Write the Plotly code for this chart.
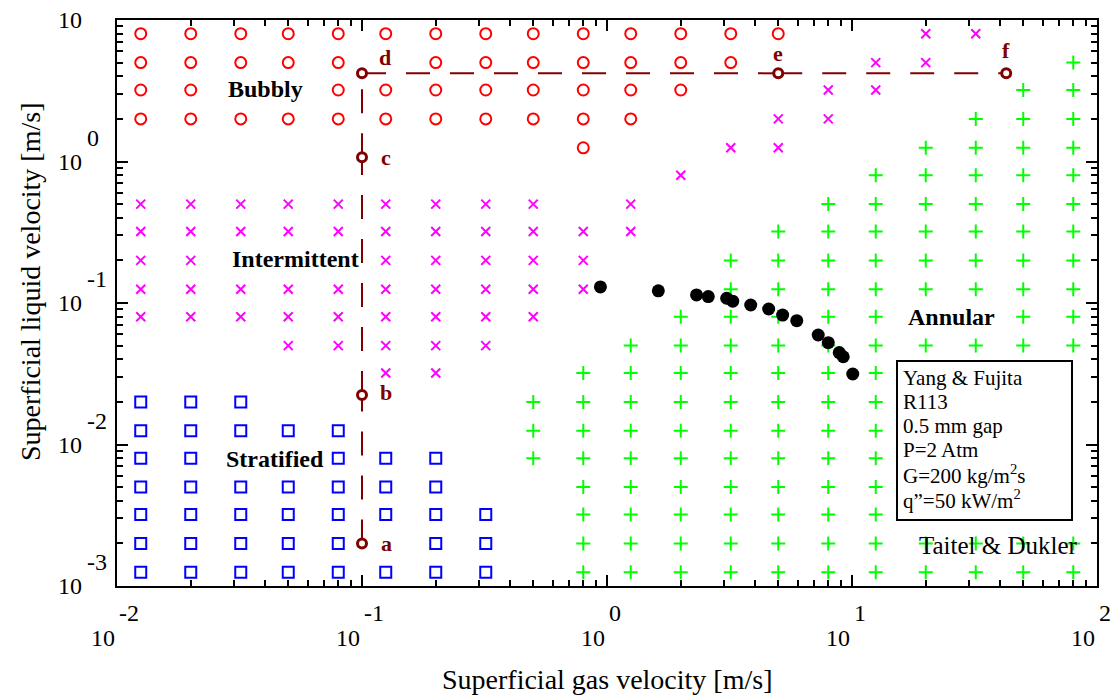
import numpy as np
import plotly.graph_objects as go

# ---------------- data ----------------
bubbly_rows = [
    (8.0, [0.0125, 0.02, 0.032, 0.05, 0.08, 0.125, 0.2, 0.32, 0.5, 0.8, 1.25, 2, 3.2, 5]),
    (5.0, [0.0125, 0.02, 0.032, 0.05, 0.08, 0.2, 0.32, 0.5, 0.8, 1.25, 2, 3.2]),
    (3.2, [0.0125, 0.02, 0.08, 0.125, 0.2, 0.32, 0.5, 0.8, 1.25, 2]),
    (2.0, [0.0125, 0.02, 0.032, 0.05, 0.08, 0.125, 0.2, 0.32, 0.5, 0.8, 1.25]),
    (1.25, [0.8]),
]
intermittent_rows = [
    (8.0, [20, 32]),
    (5.0, [12.5, 20]),
    (3.2, [8, 12.5]),
    (2.0, [5, 8]),
    (1.25, [3.2, 5]),
    (0.8, [2]),
    (0.5, [0.0125, 0.02, 0.032, 0.05, 0.08, 0.125, 0.2, 0.32, 0.5, 1.25]),
    (0.32, [0.0125, 0.02, 0.032, 0.05, 0.08, 0.125, 0.2, 0.32, 0.5, 0.8, 1.25]),
    (0.2, [0.0125, 0.02, 0.125, 0.2, 0.32, 0.5, 0.8]),
    (0.125, [0.0125, 0.02, 0.032, 0.05, 0.08, 0.125, 0.2, 0.32, 0.5, 0.8]),
    (0.08, [0.0125, 0.02, 0.032, 0.05, 0.08, 0.125, 0.2, 0.32, 0.5]),
    (0.05, [0.05, 0.08, 0.125, 0.2, 0.32]),
    (0.032, [0.125, 0.2]),
]
stratified_rows = [
    (0.02, [0.0125, 0.02, 0.032]),
    (0.0125, [0.0125, 0.02, 0.032, 0.05, 0.08]),
    (0.008, [0.0125, 0.02, 0.08, 0.125, 0.2]),
    (0.005, [0.0125, 0.02, 0.032, 0.05, 0.08, 0.125, 0.2]),
    (0.0032, [0.0125, 0.02, 0.032, 0.05, 0.08, 0.125, 0.2, 0.32]),
    (0.002, [0.0125, 0.02, 0.032, 0.05, 0.08, 0.2, 0.32]),
    (0.00125, [0.0125, 0.02, 0.032, 0.05, 0.08, 0.125, 0.2, 0.32]),
]
annular_rows = [
    (5.0, [80]),
    (3.2, [50, 80]),
    (2.0, [32, 50, 80]),
    (1.25, [20, 32, 50, 80]),
    (0.8, [12.5, 20, 32, 50, 80]),
    (0.5, [8, 12.5, 20, 32, 50, 80]),
    (0.32, [5, 8, 12.5, 20, 32, 50, 80]),
    (0.2, [3.2, 5, 8, 12.5, 20, 32, 50, 80]),
    (0.125, [3.2, 5, 8, 12.5, 20, 32, 50, 80]),
    (0.08, [2, 3.2, 5, 8, 12.5, 50, 80]),
    (0.05, [1.25, 2, 3.2, 5, 8, 12.5, 20, 32, 50, 80]),
    (0.032, [0.8, 1.25, 2, 3.2, 5, 8, 12.5]),
    (0.02, [0.5, 0.8, 1.25, 2, 3.2, 5, 8, 12.5]),
    (0.0125, [0.5, 0.8, 1.25, 2, 3.2, 5, 8, 12.5]),
    (0.008, [0.5, 0.8, 1.25, 2, 3.2, 5, 8, 12.5]),
    (0.005, [0.8, 1.25, 2, 3.2, 5, 8, 12.5]),
    (0.0032, [0.8, 1.25, 2, 3.2, 5, 8, 12.5]),
    (0.002, [0.8, 1.25, 2, 3.2, 5, 8, 12.5, 20, 32, 50, 80]),
    (0.00125, [0.8, 1.25, 2, 3.2, 5, 8, 12.5, 20, 32, 50, 80]),
]

yf_x = [0.94, 1.62, 2.32, 2.59, 3.08, 3.26, 3.86, 4.57, 5.21, 5.95, 7.28, 8.00, 8.87, 9.21, 10.07]
yf_y = [0.130, 0.122, 0.114, 0.111, 0.108, 0.103, 0.0968, 0.0907, 0.0822, 0.0750,
        0.0594, 0.0524, 0.0446, 0.0417, 0.0315]

td_labels = ["a", "b", "c", "d", "e", "f"]
td_x = [0.1, 0.1, 0.1, 0.1, 5.0, 42.6]
td_y = [0.002, 0.0224, 1.07, 4.2, 4.2, 4.2]

x_decades = [-2, -1, 0, 1, 2]
y_decades = [-3, -2, -1, 0, 1]

FONT = "Liberation Serif"
DARKRED = "#800000"


def flatten(rows):
    xs, ys = [], []
    for yv, xl in rows:
        for xv in xl:
            xs.append(xv)
            ys.append(yv)
    return xs, ys


fig = go.Figure()

styles = [
    (bubbly_rows, dict(symbol="circle-open", size=11, color="#FF0000", line=dict(width=2, color="#FF0000"))),
    (intermittent_rows, dict(symbol="x-thin-open", size=9, color="#FF00FF", line=dict(width=2, color="#FF00FF"))),
    (stratified_rows, dict(symbol="square-open", size=11, color="#0000FF", line=dict(width=2, color="#0000FF"))),
    (annular_rows, dict(symbol="cross-thin-open", size=10, color="#00FF00", line=dict(width=2, color="#00FF00"))),
]
for rows, mk in styles:
    xs, ys = flatten(rows)
    fig.add_trace(go.Scatter(x=xs, y=ys, mode="markers", marker=mk, showlegend=False, hoverinfo="skip"))

fig.add_trace(go.Scatter(x=yf_x, y=yf_y, mode="markers",
                         marker=dict(symbol="circle", size=13, color="black", line=dict(width=0)),
                         showlegend=False))

# Taitel & Dukler transition lines a-b-c-d and d-e-f
for i in range(len(td_x) - 1):
    fig.add_trace(go.Scatter(x=[td_x[i], td_x[i + 1]], y=[td_y[i], td_y[i + 1]], mode="lines",
                             line=dict(color=DARKRED, width=2, dash="24px,20px"),
                             showlegend=False, hoverinfo="skip"))
fig.add_trace(go.Scatter(x=td_x, y=td_y, mode="markers",
                         marker=dict(symbol="circle", size=9, color="white", line=dict(width=3, color=DARKRED)),
                         showlegend=False))

W, H, L, T = 980, 566, 117, 20
def px(xp):
    return (xp - L) / W
def py(yp):
    return (T + H - yp) / H

ann = []


def add_text(text, x, y, xref="paper", yref="paper", size=20, color="black", xanchor="center",
             yanchor="middle", **kw):
    ann.append(dict(x=x, y=y, xref=xref, yref=yref, text=text, xanchor=xanchor, yanchor=yanchor,
                    showarrow=False, font=dict(family=FONT, size=size, color=color), **kw))


# point labels
lbl_shift = [(24, 0), (24, 2), (24, 0), (23, 16), (0, 20), (0, 23)]
for lab, xv, yv, (dx, dy) in zip(td_labels, td_x, td_y, lbl_shift):
    add_text("<b>%s</b>" % lab, np.log10(xv), np.log10(yv), xref="x", yref="y", size=22,
             color=DARKRED, xshift=dx, yshift=dy)

# region labels
regions = [("Bubbly", 265, 89), ("Intermittent", 295, 259), ("Stratified", 275, 459), ("Annular", 951, 317)]
for txt, xp, yp in regions:
    add_text("<b>%s</b>" % txt, px(xp), py(yp), size=24)

# Legend box text
box_lines = ["Yang &amp; Fujita", "R113", "0.5 mm gap", "P=2 Atm", "G=200 kg/m<sup>2</sup>s",
             "q\u201d=50 kW/m<sup>2</sup>"]
box_y = [378, 402, 426, 450, 474, 499]
for t, yp in zip(box_lines, box_y):
    add_text(t, px(901), py(yp), xanchor="left", size=21)

add_text("Taitel &amp; Dukler", px(998), py(545), size=25)

# tick labels (10 with raised exponent)
for k in x_decades:
    add_text("10", k, py(638), xref="x", xanchor="right", size=24)
    add_text(str(k), k, py(613), xref="x", xanchor="left", size=24)
for k in y_decades:
    add_text("10", px(84), k, yref="y", xanchor="right", size=24)
    if k < 1:
        add_text(str(k), px(85), k, yref="y", xanchor="left", size=24, yshift=24)

# axis titles
add_text("Superficial gas velocity [m/s]", px(607), py(679), size=28)
add_text("Superficial liquid velocity [m/s]", px(30), py(282), size=28, textangle=-90)

box = dict(type="rect", xref="paper", yref="paper", x0=px(897), x1=px(1072), y0=py(520), y1=py(361),
           line=dict(color="black", width=2), fillcolor="white", layer="above")

x_minor = [m * 10.0 ** k for k in x_decades[:-1] for m in range(2, 10)]
y_minor = [m * 10.0 ** k for k in y_decades[:-1] for m in range(2, 10)]

axis_common = dict(type="log", showgrid=False, zeroline=False, showline=True, linecolor="black",
                   linewidth=2, mirror="ticks", ticks="inside", ticklen=11, tickwidth=1.5,
                   tickcolor="black", showticklabels=False)
fig.update_layout(
    width=1113, height=696,
    margin=dict(l=117, r=16, t=20, b=110),
    paper_bgcolor="white", plot_bgcolor="white",
    xaxis=dict(range=[-2, 2], tickvals=[10.0 ** k for k in x_decades],
               minor=dict(tickvals=x_minor, ticks="inside", ticklen=6, tickwidth=1.5, tickcolor="black",
                          showgrid=False),
               **axis_common),
    yaxis=dict(range=[-3, 1], tickvals=[10.0 ** k for k in y_decades],
               minor=dict(tickvals=y_minor, ticks="inside", ticklen=6, tickwidth=1.5, tickcolor="black",
                          showgrid=False),
               **axis_common),
    annotations=ann,
    shapes=[box],
    showlegend=False,
)

fig.write_html("out.html")
